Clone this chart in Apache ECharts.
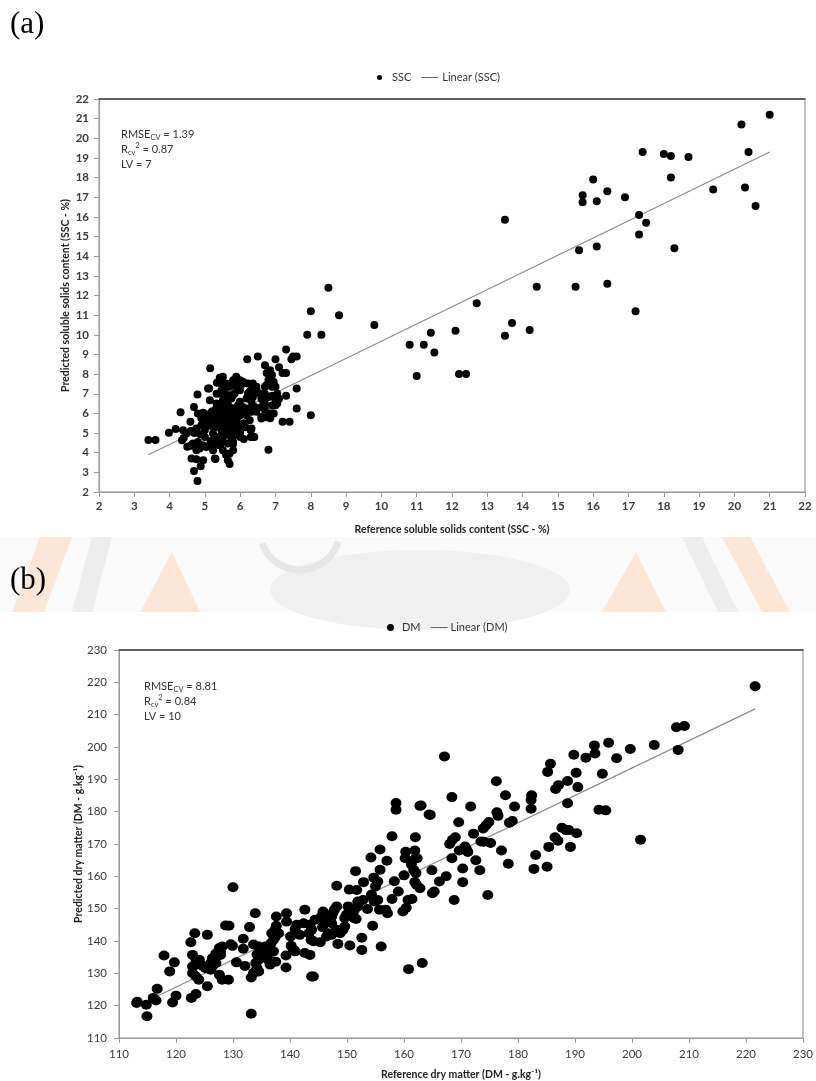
<!DOCTYPE html>
<html>
<head>
<meta charset="utf-8">
<script src="https://cdn.jsdelivr.net/npm/echarts@6/dist/echarts.min.js"></script>
<style>
html,body{margin:0;padding:0;background:#fff;}
#chart{width:816px;height:1081px;}
</style>
</head>
<body>
<div id="chart"></div>
<script>
// (a) Soluble solids content: reference vs predicted (%)
const sscPoints = [
  [21.0,21.2],[20.2,20.7],[20.4,19.3],[17.4,19.3],[18.0,19.2],[18.2,19.1],[18.7,19.05],[18.2,18.0],
  [16.0,17.9],[16.4,17.3],[15.7,17.1],[15.7,16.75],[16.1,16.8],[16.9,17.0],[19.4,17.4],[20.3,17.5],
  [20.6,16.55],[17.3,16.1],[17.5,15.7],[17.3,15.1],[18.3,14.4],[16.1,14.5],[15.6,14.3],[13.5,15.85],
  [14.4,12.45],[15.5,12.45],[16.4,12.6],[17.2,11.2],[12.7,11.6],[13.7,10.6],[13.5,9.95],[14.2,10.25],
  [12.1,10.2],[11.4,10.1],[10.8,9.5],[11.2,9.5],[11.5,9.1],[11.0,7.9],[12.2,8.0],[12.4,8.0],
  [9.8,10.5],[8.5,12.4],[8.0,11.2],[8.8,11.0],[7.9,10.0],[8.3,10.0],[8.0,5.9],
  [7.3,9.25],[7.45,8.75],[7.5,8.9],[7.6,8.9],[6.2,8.75],[6.5,8.9],[7.0,8.75],[7.1,8.35],[6.7,8.45],
  [5.15,8.3],[7.2,8.05],[7.3,8.05],[6.85,8.2],[6.75,8.05],[6.9,7.95],[6.8,7.7],[6.95,7.6],[6.75,7.45],
  [6.9,7.35],[7.0,7.35],[7.05,7.0],[6.95,6.85],[7.1,6.75],[7.3,6.9],[7.6,7.27],[7.6,6.25],[7.2,5.57],
  [7.4,5.57],[6.8,4.15],[6.7,7.35],[6.7,7.0],[6.75,6.85],[6.6,6.75],[6.9,6.9],[7.0,6.65],[7.05,6.5],
  [6.9,6.4],[6.7,6.5],[6.6,5.82],[6.75,5.8],[6.85,5.75],[6.6,5.74],[6.85,6.0],[6.95,6.0],[6.7,6.17],
  [7.0,6.42],[6.8,6.84],
  [6.36,7.52],[6.46,7.35],[6.32,7.18],[6.22,7.01],[6.36,6.84],[6.18,6.76],[6.32,6.59],[6.41,6.33],
  [6.22,6.25],[6.32,6.08],[6.18,5.91],[6.08,6.33],[5.99,6.59],[6.08,7.61],[5.89,7.52],[5.8,7.69],
  [5.7,7.35],[5.61,7.52],[5.99,7.18],[5.84,7.01],[5.75,6.76],[5.61,6.93],[5.51,6.67],[5.94,6.42],
  [5.8,6.25],[5.65,6.16],[5.51,6.08],[5.84,5.82],[5.7,5.65],[5.56,5.49],[5.89,5.49],[5.99,5.23],
  [5.8,5.14],[5.61,5.06],[5.51,4.8],[5.75,4.63],[6.32,5.23],[6.36,4.8],[6.27,5.65],[6.46,6.08],
  [6.6,6.33],[6.65,6.67],[6.55,7.01],[5.42,7.81],[5.51,7.86],[5.34,7.56],[5.47,7.52],[5.89,7.86],
  [5.99,7.69],[5.84,7.44],[5.99,7.35],[6.08,7.52],[6.22,7.52],[6.27,7.1],[6.46,7.18],[5.65,7.35],
  [5.47,7.18],[5.56,7.0],[5.7,6.93],[5.33,7.0],[5.09,7.27],[4.79,6.96],[5.56,5.65],[5.8,5.99],
  [5.7,6.33],[5.47,6.08],[5.33,6.5],[5.61,6.76],[5.42,7.01],[5.8,6.93],[5.89,7.35],[5.14,6.67],
  [5.23,5.82],[5.04,5.65],[5.28,5.6],[5.3,6.2],[5.4,5.9],[5.35,5.75],[5.25,6.0],[5.45,5.8],
  [5.5,5.95],[5.6,6.0],[5.65,5.85],[5.55,6.3],[5.45,6.35],[5.3,5.5],[5.2,5.35],[5.4,5.45],
  [5.5,5.3],[5.75,5.35],[5.9,5.7],[6.0,5.9],[6.05,6.1],[5.95,6.2],[6.1,5.5],[6.15,5.3],
  [6.0,5.0],[6.1,4.7],[5.85,4.9],[5.2,6.1],[5.1,5.95],[5.35,6.35],[5.5,6.5],[5.65,6.45],
  [5.75,6.1],[5.85,6.0],
  [3.4,4.65],[3.6,4.65],[3.98,5.01],[4.17,5.2],[4.31,6.06],[4.69,6.33],[4.95,6.03],[5.12,7.27],
  [4.59,5.57],[4.38,5.14],[4.35,4.63],[4.48,4.98],[4.76,5.23],[4.87,4.94],[4.66,4.47],[4.6,4.36],
  [4.8,4.55],[4.95,4.38],[4.85,4.21],[5.04,4.29],[4.76,4.12],[5.16,4.6],[5.28,4.47],[5.42,4.38],
  [5.23,4.13],[5.14,5.52],[5.33,5.31],[5.47,5.14],[5.23,4.98],[5.37,4.8],[5.56,4.89],[5.65,5.14],
  [5.75,4.8],[5.8,4.55],[5.65,4.47],[5.51,4.13],[5.7,3.96],[5.65,3.62],[4.62,3.7],[4.76,3.67],
  [4.95,3.62],[5.28,3.7],[4.88,3.31],[4.69,3.07],[4.79,2.56],[5.7,3.43],[5.47,4.55],[4.5,4.3],
  [4.4,4.75],[4.6,5.1],[4.7,5.0],[4.9,5.4],[5.0,5.15],[5.0,4.8],[4.9,5.75],[5.0,5.95],
  [4.8,6.0],[5.1,5.4],[5.8,4.12],[5.8,5.14],[6.0,4.8],[5.8,4.46],[6.3,5.14],[6.4,4.8],
  [5.15,4.38],[5.43,4.38],[5.33,4.8],[5.6,3.9],[5.3,3.68],[6.3,4.8]
];
// fitted line end points for (a)
const sscTrend = [[3.4, 3.9], [21.0, 19.3]];
const sscAxisRange = [2, 22];
const sscTickStep = 1;
const sscStats = ['1.39', '0.87', '7'];

// (b) Dry matter: reference vs predicted (g/kg)
const dmPoints = [
  [221.6,218.8],[207.8,206.1],[209.2,206.5],[208.1,199.1],[203.9,200.6],[199.7,199.4],[195.9,201.3],
  [197.3,196.5],[193.4,200.5],[193.5,198.0],[191.9,196.7],[189.8,197.6],[190.2,192.0],[194.8,191.7],
  [190.5,187.6],[185.2,192.3],[185.7,194.8],[186.6,187.0],[187.1,188.2],[188.7,189.5],[188.7,182.6],
  [182.4,185.1],[182.3,183.6],[182.3,180.9],[194.2,180.6],[195.4,180.4],[201.5,171.3],[187.7,175.0],
  [188.4,174.3],[188.9,174.3],[190.3,173.3],[186.5,172.1],[187.0,171.0],[185.4,169.1],[189.2,169.1],
  [183.1,166.6],[182.8,162.3],[185.1,163.0],[176.2,189.4],[177.8,185.1],[179.4,181.6],[176.3,179.8],
  [176.5,178.7],[179.0,177.1],[178.5,176.6],[174.9,176.8],[174.4,175.8],[173.9,174.8],[171.7,181.6],
  [168.4,184.5],[167.1,197.1],[169.6,176.7],[172.2,173.2],[169.0,172.1],[168.5,171.3],[168.0,170.0],
  [173.5,170.8],[174.0,170.7],[175.2,170.3],[177.1,168.0],[170.7,169.2],[171.0,168.2],[171.2,167.5],
  [169.7,168.0],[172.6,165.0],[173.3,161.9],[168.4,165.6],[170.3,162.4],[170.3,158.2],[178.3,163.9],
  [174.7,154.2],[168.8,152.7],[167.4,160.0],[166.2,158.4],[164.9,161.9],[165.0,154.8],[165.3,155.3],
  [164.4,179.1],[162.8,181.8],[163.2,133.2],[160.8,131.3],[162.0,172.1],[161.9,168.0],[162.0,165.6],
  [162.3,165.6],[160.3,167.6],[160.2,165.6],[161.3,163.7],[161.7,162.0],[162.1,161.0],[161.9,158.2],
  [162.2,157.4],[162.8,156.3],[160.0,160.3],[161.4,153.0],[160.7,152.7],[160.4,150.3],[159.8,149.1],
  [159.0,155.3],
  [158.6,182.7],[158.6,180.6],[163.0,181.9],[164.6,179.0],[157.9,172.4],[158.3,158.5],[157.9,153.0],
  [155.8,168.3],[157.0,164.8],[154.2,165.8],[155.8,162.0],[151.5,161.6],[154.7,159.6],[155.4,158.4],
  [155.0,156.9],[152.9,158.2],[150.4,155.9],[151.7,155.8],[148.2,157.1],[154.3,154.4],[154.5,153.3],
  [154.8,152.2],[152.8,152.7],[155.4,152.7],[155.7,149.7],[156.8,149.7],[157.1,148.6],[153.6,149.9],
  [151.9,152.2],[151.9,150.7],[151.3,149.7],[151.0,148.1],[150.2,150.7],[150.4,149.7],[149.9,148.1],
  [149.6,147.1],[151.2,147.1],[151.6,146.8],[149.6,144.5],[149.3,143.5],[148.2,150.7],[147.8,149.7],
  [147.5,148.6],[147.3,147.6],[146.7,146.6],[146.1,145.5],[145.8,149.1],[145.5,147.6],[147.3,145.5],
  [154.5,144.7],[152.6,141.0],[152.6,137.2],[150.5,138.6],[156.0,138.3],[148.4,139.1],[148.8,142.4],
  [148.1,143.5],[147.3,141.9],[146.7,142.4],[146.4,141.4],[145.7,144.3],[145.3,139.6],[144.4,146.6],
  [143.5,145.0],[143.8,143.5],[143.3,142.4],[143.7,140.4],[144.1,139.9],[142.6,149.7],[142.4,145.5],
  [141.2,145.0],[140.9,143.7],[141.7,141.9],[140.9,136.8],[140.6,137.3],[142.6,136.3],[143.5,135.7],
  [144.1,129.0],[143.8,129.0],[139.4,148.6],[139.4,146.0],[140.1,141.4],[139.3,135.5],[139.3,131.8],
  [140.2,138.5],[137.6,147.6],[137.6,144.7],[137.4,143.5],[136.8,142.4],[138.0,142.4],[137.4,141.2],
  [137.1,140.4],[136.7,139.4],[137.1,136.8],[137.5,133.6],[136.2,136.5],[135.7,135.2],[136.2,134.2],
  [136.8,133.7],[136.5,132.7],[134.5,138.3],[135.1,137.3],[135.7,138.3],[135.1,136.3],[134.8,134.7],
  [134.2,135.8],[134.5,134.2],[133.9,148.6],[132.9,144.3],[133.6,138.9],[131.8,140.7],[131.8,137.6],
  [132.1,132.3],[133.2,128.7],[133.2,117.5],[134.2,131.6],[134.5,130.6],[133.6,130.1],[134.0,133.2],
  [130.0,156.6],[130.6,133.4],[129.6,139.0],[129.9,138.5],[128.7,144.8],[129.3,144.7],[127.8,136.8],
  [127.8,135.7],[128.1,138.3],[127.6,137.8],[127.0,136.1],[126.4,134.7],[126.1,133.2],[125.5,141.9],
  [127.0,133.2],[126.4,132.3],[126.1,131.1],[124.7,132.3],[125.2,131.6],[125.5,126.0],[127.6,129.6],
  [128.1,128.0],[129.2,128.0],[123.3,142.4],[122.6,139.6],[122.9,135.7],[123.5,134.2],[122.9,132.1],
  [124.1,134.2],[123.5,132.7],[122.9,130.1],[123.5,129.0],[124.0,128.0],[122.7,122.4],[123.5,123.6],
  [117.9,135.5],[118.9,130.6],[119.7,133.4],[119.4,121.0],[120.0,123.1],[116.7,125.2],[116.5,121.6],
  [116.0,122.4],[113.2,121.2],[113.1,120.8],[114.8,120.3],[114.9,116.7]
];
// fitted line end points for (b)
const dmTrend = [[113.2, 120.0], [221.6, 211.8]];
const dmAxisRange = [110, 230];
const dmTickStep = 10;
const dmStats = ['8.81', '0.84', '10'];

const FONT = 'Lato, "Open Sans", sans-serif';
const LINE_ICON = 'path://M0,0H34V2H0Z';

function statsText(s) {
  return '{a|RMSE}{s|CV}{a| = ' + s[0] + '}\n{a|R}{s|cv}{p|2}{a| = ' + s[1] + '}\n{a|LV = ' + s[2] + '}';
}
const statsRich = {
  a: {fontSize: 11, fontFamily: FONT, fill: '#333', lineHeight: 15},
  s: {fontSize: 7.5, fontFamily: FONT, fill: '#333', lineHeight: 15, verticalAlign: 'bottom'},
  p: {fontSize: 7.5, fontFamily: FONT, fill: '#333', lineHeight: 15, verticalAlign: 'top'}
};

function valueAxis(grid, range, step, name, gap, labelStyle, margin) {
  return {
    gridIndex: grid, type: 'value', min: range[0], max: range[1], interval: step,
    name: name, nameLocation: 'middle', nameGap: gap, nameMoveOverlap: false,
    nameTextStyle: {fontFamily: FONT, fontSize: 10.5, fontWeight: 'bold', color: '#222'},
    axisLine: {show: true, onZero: false, lineStyle: {color: '#9a9a9a', width: 1}},
    axisTick: {show: true, length: 5, lineStyle: {color: '#9a9a9a'}},
    axisLabel: Object.assign({fontFamily: FONT, color: '#3a3a3a', margin: margin}, labelStyle),
    splitLine: {show: false}
  };
}
function frameAxis(grid, range) {
  return {
    gridIndex: grid, type: 'value', position: 'top', min: range[0], max: range[1],
    axisLine: {show: true, onZero: false, lineStyle: {color: '#3c3c3c', width: 1.5}},
    axisTick: {show: false}, axisLabel: {show: false}, splitLine: {show: false}
  };
}

const chart = echarts.init(document.getElementById('chart'), null, {renderer: 'canvas'});
chart.setOption({
  backgroundColor: '#ffffff',
  animation: false,
  grid: [
    {left: 99, top: 99, width: 706, height: 393, show: true, borderColor: '#8a8a8a', borderWidth: 1, backgroundColor: '#fff'},
    {left: 119, top: 650, width: 690, height: 388, show: true, borderColor: '#8a8a8a', borderWidth: 1, backgroundColor: '#fff'}
  ],
  xAxis: [
    valueAxis(0, sscAxisRange, sscTickStep, 'Reference soluble solids content (SSC - %)', 32,
      {fontSize: 11.5, fontWeight: 'bold'}, 8),
    valueAxis(1, dmAxisRange, dmTickStep, 'Reference dry matter (DM - g.kg\u207B\u00B9)', 31,
      {fontSize: 11.5}, 10),
    frameAxis(0, sscAxisRange),
    frameAxis(1, dmAxisRange)
  ],
  yAxis: [
    valueAxis(0, sscAxisRange, sscTickStep, 'Predicted soluble solids content (SSC - %)', 28,
      {fontSize: 11.5, fontWeight: 'bold'}, 10),
    valueAxis(1, dmAxisRange, dmTickStep, 'Predicted dry matter (DM - g.kg\u207B\u00B9)', 35,
      {fontSize: 11.5}, 12)
  ],
  legend: [
    {
      left: 377, top: 72, itemGap: 10, itemWidth: 17, itemHeight: 5, padding: 0,
      textStyle: {fontFamily: FONT, fontSize: 11, color: '#333', padding: [0, 0, 0, -1]},
      data: [{name: 'SSC', icon: 'circle'}, {name: 'Linear (SSC)', icon: LINE_ICON}]
    },
    {
      left: 387, top: 622, itemGap: 10, itemWidth: 17, itemHeight: 7, padding: 0,
      textStyle: {fontFamily: FONT, fontSize: 11, color: '#333', padding: [0, 0, 0, -2]},
      data: [{name: 'DM', icon: 'circle'}, {name: 'Linear (DM)', icon: LINE_ICON}]
    }
  ],
  series: [
    {
      name: 'SSC', type: 'scatter', xAxisIndex: 0, yAxisIndex: 0,
      data: sscPoints, symbolSize: 8, itemStyle: {color: '#000', opacity: 1}, z: 3
    },
    {
      name: 'Linear (SSC)', type: 'line', xAxisIndex: 0, yAxisIndex: 0,
      data: sscTrend, symbol: 'none', lineStyle: {color: '#8c8c8c', width: 1.2},
      itemStyle: {color: '#666'}, z: 2
    },
    {
      name: 'DM', type: 'scatter', xAxisIndex: 1, yAxisIndex: 1,
      data: dmPoints, symbolSize: [11, 10], itemStyle: {color: '#000', opacity: 1}, z: 3
    },
    {
      name: 'Linear (DM)', type: 'line', xAxisIndex: 1, yAxisIndex: 1,
      data: dmTrend, symbol: 'none', lineStyle: {color: '#8c8c8c', width: 1.2},
      itemStyle: {color: '#666'}, z: 2
    }
  ],
  graphic: [
    // faint emblem band between the two panels
    {
      type: 'group', z: -10, silent: true,
      children: [
        {type: 'rect', shape: {x: 0, y: 537, width: 816, height: 75}, style: {fill: '#fafafa'}},
        {type: 'polygon', shape: {points: [[40,537],[72,537],[44,612],[12,612]]}, style: {fill: '#fce6d6'}},
        {type: 'polygon', shape: {points: [[92,537],[112,537],[92,612],[72,612]]}, style: {fill: '#ededed'}},
        {type: 'polygon', shape: {points: [[140,612],[172,552],[200,612]]}, style: {fill: '#fce6d6'}},
        {type: 'polygon', shape: {points: [[722,537],[750,537],[790,612],[762,612]]}, style: {fill: '#fce6d6'}},
        {type: 'polygon', shape: {points: [[682,537],[702,537],[738,612],[718,612]]}, style: {fill: '#ededed'}},
        {type: 'polygon', shape: {points: [[602,612],[636,552],[666,612]]}, style: {fill: '#fce6d6'}},
        {type: 'ellipse', shape: {cx: 420, cy: 590, rx: 150, ry: 40}, style: {fill: '#f0f0f0'}},
        {type: 'arc', shape: {cx: 300, cy: 530, r: 40, startAngle: 0.3, endAngle: 2.8}, style: {fill: 'none', stroke: '#e6e6e6', lineWidth: 7}}
      ]
    },
    {
      type: 'text', left: 10, top: 9,
      style: {text: '(a)', font: '31px "Liberation Serif", "DejaVu Serif", serif', fill: '#000'}
    },
    {
      type: 'text', left: 10, top: 565,
      style: {text: '(b)', font: '31px "Liberation Serif", "DejaVu Serif", serif', fill: '#000'}
    },
    {
      type: 'text', left: 121, top: 129,
      style: {text: statsText(sscStats), rich: statsRich}
    },
    {
      type: 'text', left: 144, top: 681,
      style: {text: statsText(dmStats), rich: statsRich}
    }
  ]
});
</script>
</body>
</html>
